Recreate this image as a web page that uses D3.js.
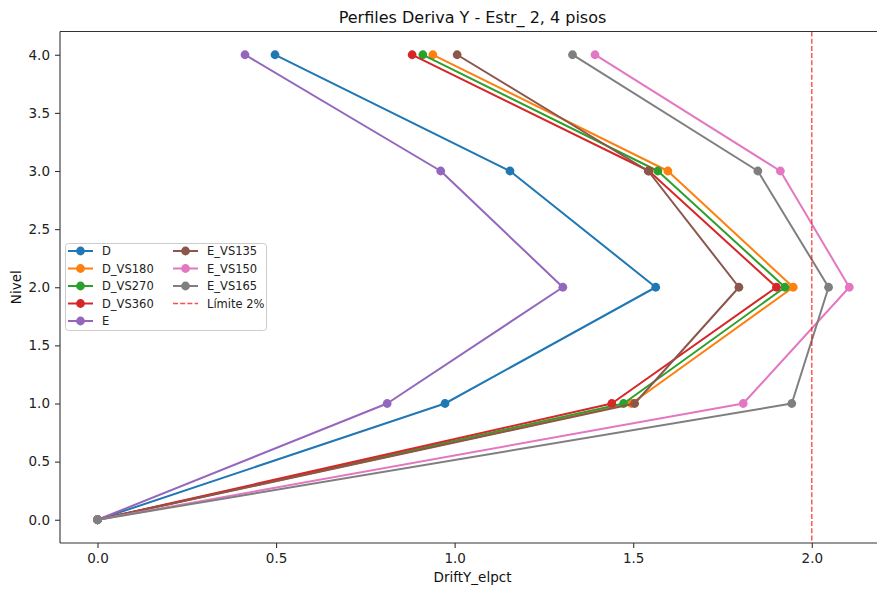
<!DOCTYPE html>
<html>
<head>
<meta charset="utf-8">
<script src="https://cdn.jsdelivr.net/npm/d3@7"></script>
<style>
  html, body { margin: 0; padding: 0; background: #fff; }
  svg { display: block; font-family: "DejaVu Sans", sans-serif; }
</style>
</head>
<body>
<svg id="chart" width="877" height="589"></svg>
<script>
// ---- data ----
const levels = [0, 1, 2, 3, 4];
const seriesNames = ["D", "D_VS180", "D_VS270", "D_VS360", "E", "E_VS135", "E_VS150", "E_VS165"];
const seriesColors = ["#1f77b4", "#ff7f0e", "#2ca02c", "#d62728", "#9467bd", "#8c564b", "#e377c2", "#7f7f7f"];
const D       = [0, 0.973, 1.563, 1.155, 0.497];
const D_VS180 = [0, 1.495, 1.948, 1.597, 0.939];
const D_VS270 = [0, 1.473, 1.925, 1.569, 0.911];
const D_VS360 = [0, 1.440, 1.901, 1.544, 0.881];
const E       = [0, 0.811, 1.303, 0.961, 0.413];
const E_VS135 = [0, 1.504, 1.796, 1.542, 1.007];
const E_VS150 = [0, 1.808, 2.105, 1.912, 1.393];
const E_VS165 = [0, 1.944, 2.047, 1.849, 1.330];
const seriesValues = [D, D_VS180, D_VS270, D_VS360, E, E_VS135, E_VS150, E_VS165];
const limitValue = 2.0;
const limitLabel = "Límite 2%";
const xTicks = [0.0, 0.5, 1.0, 1.5, 2.0];
const yTicks = [0.0, 0.5, 1.0, 1.5, 2.0, 2.5, 3.0, 3.5, 4.0];
const titleText = "Perfiles Deriva Y - Estr_ 2, 4 pisos";
const xLabel = "DriftY_elpct";
const yLabel = "Nivel";

// ---- layout ----
const svg = d3.select("#chart");
const mLeft = 60, mTop = 31.5, mBottom = 543, mRight = 885;
const x = d3.scaleLinear().domain([-0.105, 2.205]).range([mLeft, mRight]);
const y = d3.scaleLinear().domain([-0.2, 4.2]).range([mBottom, mTop]);

const plot = svg.append("g");

// axes
const fmt = d3.format(".1f");
const xAxis = svg.append("g").attr("transform", `translate(0,${mBottom})`)
  .call(d3.axisBottom(x).tickValues(xTicks).tickFormat(fmt).tickSize(5).tickPadding(5));
const yAxis = svg.append("g").attr("transform", `translate(${mLeft},0)`)
  .call(d3.axisLeft(y).tickValues(yTicks).tickFormat(fmt).tickSize(5).tickPadding(5));
[xAxis, yAxis].forEach(a => {
  a.selectAll("text").attr("font-size", 13.5).attr("fill", "#222").attr("font-family", "DejaVu Sans");
  a.selectAll("line").attr("stroke", "#333").attr("stroke-width", 1.1);
  a.select(".domain").remove();
});
// spines
svg.append("line").attr("x1", mLeft).attr("x2", mLeft).attr("y1", mTop).attr("y2", mBottom).attr("stroke", "#333").attr("stroke-width", 1.1);
svg.append("line").attr("x1", mLeft).attr("x2", mRight).attr("y1", mBottom).attr("y2", mBottom).attr("stroke", "#333").attr("stroke-width", 1.1);
svg.append("line").attr("x1", mLeft).attr("x2", mRight).attr("y1", mTop).attr("y2", mTop).attr("stroke", "#333").attr("stroke-width", 1.1);

// series
const line = d3.line().x(d => x(d[0])).y(d => y(d[1]));
seriesNames.forEach((name, i) => {
  const pts = seriesValues[i].map((v, j) => [v, levels[j]]);
  const g = plot.append("g");
  g.append("path").attr("d", line(pts)).attr("fill", "none")
    .attr("stroke", seriesColors[i]).attr("stroke-width", 2).attr("stroke-linejoin", "round").attr("stroke-linecap", "square");
  g.selectAll("circle").data(pts).join("circle")
    .attr("cx", d => x(d[0])).attr("cy", d => y(d[1])).attr("r", 4.4)
    .attr("fill", seriesColors[i]);
});

// limit line
plot.append("line").attr("x1", x(limitValue)).attr("x2", x(limitValue)).attr("y1", mTop).attr("y2", mBottom)
  .attr("stroke", "#ff0000").attr("stroke-opacity", 0.7).attr("stroke-width", 1.4).attr("stroke-dasharray", "5,2.2");

// title and labels
svg.append("text").attr("x", (mLeft + mRight) / 2).attr("y", 23).attr("text-anchor", "middle")
  .attr("font-size", 16).attr("fill", "#111").text(titleText);
svg.append("text").attr("x", (mLeft + mRight) / 2).attr("y", 582).attr("text-anchor", "middle")
  .attr("font-size", 13.5).attr("fill", "#111").text(xLabel);
svg.append("text").attr("transform", `translate(21,${(mTop + mBottom) / 2}) rotate(-90)`).attr("text-anchor", "middle")
  .attr("font-size", 13.5).attr("fill", "#111").text(yLabel);

// legend
const lg = svg.append("g");
lg.append("rect").attr("x", 65.5).attr("y", 243.5).attr("width", 201).attr("height", 87).attr("rx", 3)
  .attr("fill", "#fff").attr("fill-opacity", 0.8).attr("stroke", "#ccc").attr("stroke-width", 1);
const legendItems = seriesNames.map((n, i) => ({ name: n, color: seriesColors[i], type: "series" }))
  .concat([{ name: limitLabel, color: "#ff0000", type: "limit" }]);
legendItems.forEach((it, k) => {
  const col = k < 5 ? 0 : 1;
  const row = k < 5 ? k : k - 5;
  const x0 = col === 0 ? 68 : 173;
  const yy = 251 + row * 17.5;
  if (it.type === "series") {
    lg.append("line").attr("x1", x0).attr("x2", x0 + 25).attr("y1", yy).attr("y2", yy)
      .attr("stroke", it.color).attr("stroke-width", 2);
    lg.append("circle").attr("cx", x0 + 12.5).attr("cy", yy).attr("r", 4.4).attr("fill", it.color);
  } else {
    lg.append("line").attr("x1", x0).attr("x2", x0 + 25).attr("y1", yy).attr("y2", yy)
      .attr("stroke", it.color).attr("stroke-opacity", 0.7).attr("stroke-width", 1.4).attr("stroke-dasharray", "5,2.2");
  }
  lg.append("text").attr("x", x0 + 34).attr("y", yy + 4).attr("font-size", 11.5).attr("fill", "#222").text(it.name);
});
</script>
</body>
</html>
